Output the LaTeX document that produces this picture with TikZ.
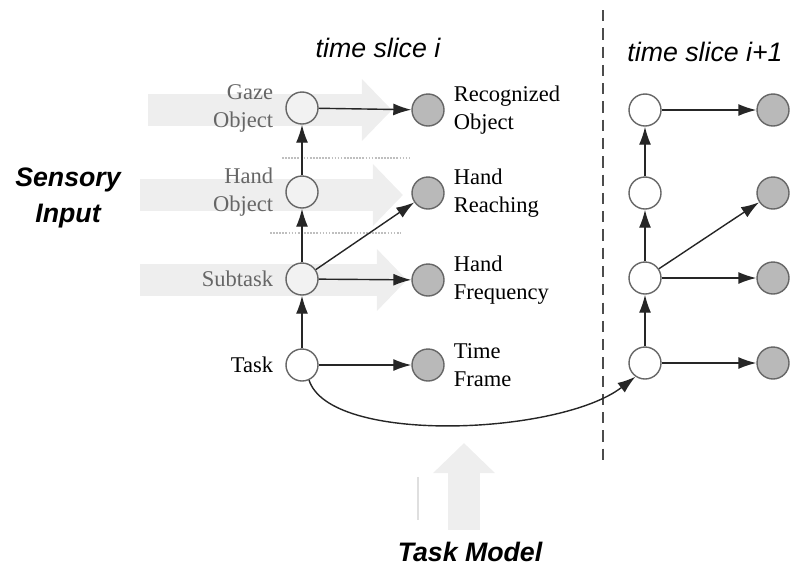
\documentclass[tikz,border=0pt]{standalone}
\usepackage{fontspec}
\setmainfont{Liberation Serif}
\setsansfont{Liberation Sans}
\usetikzlibrary{arrows.meta,positioning}
\tikzset{
  hidden/.style={draw=gray!80!black, circle, minimum size=0.8cm, inner sep=0pt, line width=1pt, fill=white},
  hiddensh/.style={hidden, fill=gray!10},
  observed/.style={draw=gray!80!black, circle, minimum size=0.8cm, inner sep=0pt, line width=1pt, fill=gray!55},
  lbl/.style={align=left, font=\fontsize{16}{20}\selectfont, inner sep=0pt},
  lbll/.style={align=right, font=\fontsize{16}{20}\selectfont, inner sep=0pt, text=black!60},
  slicetitle/.style={font=\sffamily\itshape\fontsize{19}{23}\selectfont},
  bigtitle/.style={align=center, font=\sffamily\bfseries\itshape\fontsize{19}{26}\selectfont},
  arrow/.style={-{Latex[length=4.5mm,width=3mm]}, line width=1pt, draw=black!85},
  flow/.style={gray!13, line width=0.8cm, -{Triangle[length=0.75cm,width=1.5cm]}},
  sep/.style={gray!50, densely dotted, line width=1.2pt}
}
\begin{document}
\begin{tikzpicture}[x=0.025cm,y=-0.025cm]
  \useasboundingbox (0,0) rectangle (800,575);

  % sensory input and task model flows
  \draw[flow] (148,110) -- (392,110);
  \draw[flow] (140,195) -- (403,195);
  \draw[flow] (140,280) -- (407,280);
  \draw[flow] (464,530) -- (464,443);
  \draw[gray!25, line width=1.2pt] (418,477) -- (418,520);
  \draw[sep] (282,158) -- (410,158);
  \draw[sep] (270,233) -- (400,233);

  % time slice i
  \node[hiddensh] (gaze) at (302,108) {};
  \node[hiddensh] (hand) at (302,192) {};
  \node[hiddensh] (sub) at (302,279) {};
  \node[hidden] (task) at (302,365) {};
  \node[observed] (rec) at (428,110) {};
  \node[observed] (reach) at (428,193) {};
  \node[observed] (freq) at (428,280) {};
  \node[observed] (frame) at (428,365) {};

  \node[lbll, left=0.3cm of gaze] {Gaze\\Object};
  \node[lbll, left=0.3cm of hand] {Hand\\Object};
  \node[lbll, left=0.3cm of sub] {Subtask};
  \node[lbl, left=0.3cm of task] {Task};
  \node[lbl, right=0.22cm of rec] {Recognized\\Object};
  \node[lbl, right=0.22cm of reach] {Hand\\Reaching};
  \node[lbl, right=0.22cm of freq] {Hand\\Frequency};
  \node[lbl, right=0.22cm of frame] {Time\\Frame};

  % time slice i+1
  \node[hidden] (gazeB) at (645,110) {};
  \node[hidden] (handB) at (645,193) {};
  \node[hidden] (subB) at (645,278) {};
  \node[hidden] (taskB) at (645,363) {};
  \node[observed] (recB) at (773,110) {};
  \node[observed] (reachB) at (773,193) {};
  \node[observed] (freqB) at (773,278) {};
  \node[observed] (frameB) at (773,363) {};

  \draw[gray!60!black, line width=2pt, dash pattern=on 8pt off 5pt] (603,10) -- (603,462);

  \draw[arrow] (task) -- (sub);
  \draw[arrow] (sub) -- (hand);
  \draw[arrow] (hand) -- (gaze);
  \draw[arrow] (gaze) -- (rec);
  \draw[arrow] (sub) -- (reach);
  \draw[arrow] (sub) -- (freq);
  \draw[arrow] (task) -- (frame);
  \draw[arrow] (taskB) -- (subB);
  \draw[arrow] (subB) -- (handB);
  \draw[arrow] (handB) -- (gazeB);
  \draw[arrow] (gazeB) -- (recB);
  \draw[arrow] (subB) -- (reachB);
  \draw[arrow] (subB) -- (freqB);
  \draw[arrow] (taskB) -- (frameB);
  \draw[arrow] (task.-65) .. controls (330,445) and (560,435) .. (taskB.-125);

  \node[slicetitle] (titleA) at (378,48) {time slice i};
  \node[slicetitle] (titleB) at (705,52) {time slice i+1};
  \node[bigtitle] (sensory) at (68,198) {Sensory\\Input};
  \node[bigtitle] (model) at (470,552) {Task Model};
\end{tikzpicture}
\end{document}
